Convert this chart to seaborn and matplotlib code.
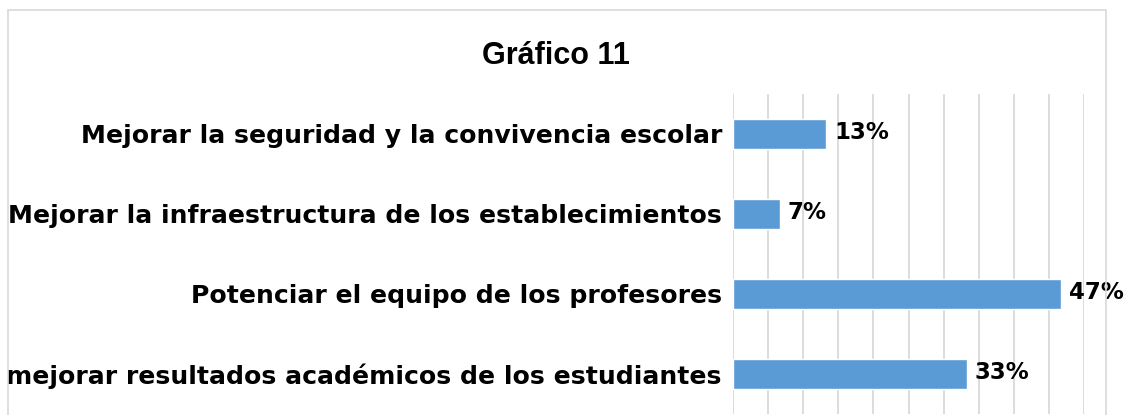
import matplotlib
matplotlib.use("Agg")
import matplotlib.pyplot as plt
import pandas as pd
import seaborn as sns
from matplotlib.patches import Rectangle

categories = [
    "Mejorar la seguridad y la convivencia escolar",
    "Mejorar la infraestructura de los establecimientos",
    "Potenciar el equipo de los profesores",
    "mejorar resultados académicos de los estudiantes",
]
percentages = [13.3, 6.7, 46.7, 33.3]
tick_values = [0, 5, 10, 15, 20, 25, 30, 35, 40, 45, 50]
title = "Gráfico 11"

df = pd.DataFrame({"categoria": categories, "porcentaje": percentages})

sns.set_theme(style="white")
plt.rcParams["font.family"] = ["DejaVu Sans"]

fig = plt.figure(figsize=(11.26, 4.15), dpi=100)

# chart frame like the spreadsheet export
fig.patches.append(Rectangle((8 / 1126, -0.1), (1106 - 8) / 1126, 1.1 - 10 / 415,
                             transform=fig.transFigure, fill=False,
                             edgecolor="#D9D9D9", linewidth=1.2))

ax = fig.add_axes([733 / 1126, 1 / 415, (1084 - 733) / 1126, 320 / 415])

sns.barplot(
    data=df,
    x="porcentaje",
    y="categoria",
    order=categories,
    color="#5B9BD5",
    saturation=1,
    width=0.37,
    ax=ax,
)

ax.set_xlim(0, 50)
ax.set_ylim(3.5, -0.5)
ax.set_xticks(tick_values)
ax.set_xticklabels([])
ax.grid(axis="x", color="#D9D9D9", linewidth=1.3)
ax.grid(axis="y", visible=False)
ax.set_axisbelow(True)
for s in ax.spines.values():
    s.set_visible(False)
ax.tick_params(axis="both", length=0)
ax.tick_params(axis="y", pad=8)
ax.set_xlabel("")
ax.set_ylabel("")
for lbl in ax.get_yticklabels():
    lbl.set_fontsize(18.1)
    lbl.set_fontweight("bold")
    lbl.set_color("black")

for i, v in enumerate(percentages):
    ax.text(v + 1.1, i - 0.02, f"{round(v)}%", va="center", ha="left",
            fontsize=16.5, fontweight="bold", color="black")

fig.text(556 / 1126, 1 - 56 / 415, title, ha="center", va="center",
         fontsize=22, fontweight="bold", family=["Liberation Sans"], color="black")

fig.savefig("out.png", dpi=100)
